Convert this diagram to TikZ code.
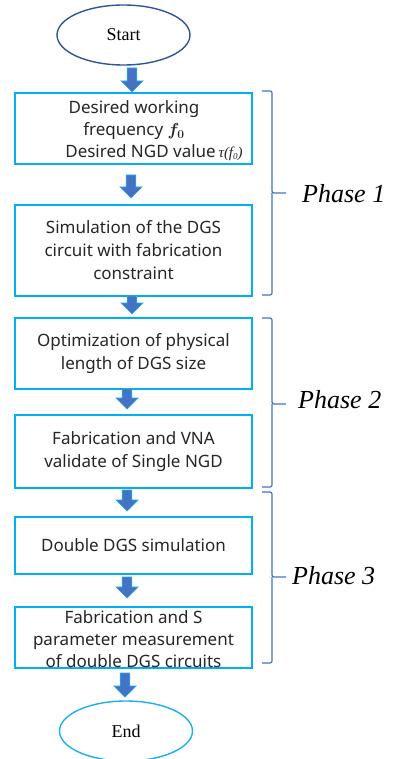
\documentclass[tikz,border=0pt]{standalone}
\usepackage{fontspec}
\setmainfont{Liberation Serif}
\newfontfamily\boxfont{Noto Sans}
\newfontfamily\greekfont{Liberation Serif}
\usepackage{amsmath}
\usetikzlibrary{shapes.geometric}
\begin{document}
\begin{tikzpicture}[x=1pt,y=-1pt,
  stepbox/.style={draw={rgb,255:red,0;green,176;blue,240}, line width=1.6pt, fill=white, inner sep=0pt,
     font=\boxfont\fontsize{17}{23}\selectfont, text={rgb,255:red,38;green,38;blue,38}, align=center},
  termnode/.style={ellipse, line width=1.4pt, fill=white, minimum width=133pt, minimum height=60pt, inner sep=0pt,
     font=\fontsize{18}{20}\selectfont},
  phase/.style={anchor=base west, font=\itshape\fontsize{26}{28}\selectfont, inner sep=0pt},
  bracket/.style={draw={rgb,255:red,68;green,114;blue,196}, line width=1.2pt, rounded corners=2pt}
]
\useasboundingbox (0,0) rectangle (393,759);
\definecolor{arrfill}{RGB}{68,114,196}
\definecolor{arredge}{RGB}{40,170,235}
\newcommand{\blockarrow}[3]{% x, ytop, ytip
  \fill[arrfill, draw=arredge, line width=0.7pt]
    (#1-4.8,#2) -- (#1+4.8,#2) -- (#1+4.8,#3-11) -- (#1+11,#3-11) -- (#1,#3) -- (#1-11,#3-11) -- (#1-4.8,#3-11) -- cycle;}

\node[termnode, draw={rgb,255:red,47;green,85;blue,151}] (start) at (123.5,35) {Start};

\node[stepbox, minimum width=237pt, minimum height=71pt] (b1) at (133.5,128.5) {};
\node[font=\boxfont\fontsize{17}{22}\selectfont, text={rgb,255:red,38;green,38;blue,38}, align=center, inner sep=0pt] (t1) at (134,131)
  {Desired working\\ frequency $\boldsymbol{f_0}$\\ \hspace*{40pt}Desired NGD value\,{\greekfont\itshape\fontsize{15}{15}\selectfont τ(\textit{f}{\fontsize{9}{9}\selectfont\raisebox{-2pt}{0}})}};

\node[stepbox, minimum width=237pt, minimum height=91pt] (b2) at (133.5,250.5) {Simulation of the DGS\\ circuit with fabrication\\ constraint};
\node[stepbox, minimum width=237pt, minimum height=71pt] (b3) at (133.5,353.5) {Optimization of physical\\ length of DGS size};
\node[stepbox, minimum width=237pt, minimum height=73pt] (b4) at (133.5,451.5) {Fabrication and VNA\\ validate of Single NGD};
\node[stepbox, minimum width=237pt, minimum height=57pt] (b5) at (133.5,545.5) {Double DGS simulation};
\node[stepbox, minimum width=237pt, minimum height=61pt] (b6) at (133.5,637.5) {};
\node[font=\boxfont\fontsize{17}{22}\selectfont, text={rgb,255:red,38;green,38;blue,38}, align=center, inner sep=0pt] (t6) at (133.5,639)
  {Fabrication and S\\ parameter measurement\\ of double DGS circuits};

\node[termnode, draw={rgb,255:red,26;green,176;blue,240}] (end) at (126,731) {End};

\blockarrow{132}{68}{92}
\blockarrow{131}{175}{198}
\blockarrow{132}{296}{314}
\blockarrow{127}{389}{409}
\blockarrow{127}{490}{511}
\blockarrow{127}{577}{598}
\blockarrow{125}{673}{697}

\coordinate (p1a) at (262,91);
\coordinate (p1m) at (286,193);
\coordinate (p1b) at (262,295);
\draw[bracket] (p1a) -- (272,91) -- (272,193) -- (p1m);
\draw[bracket] (272,193) -- (272,295) -- (p1b);
\coordinate (p2a) at (262,318);
\coordinate (p2m) at (286,404);
\coordinate (p2b) at (262,487);
\draw[bracket] (p2a) -- (272,318) -- (272,404) -- (p2m);
\draw[bracket] (272,404) -- (272,487) -- (p2b);
\coordinate (p3a) at (262,492);
\coordinate (p3m) at (286,577);
\coordinate (p3b) at (262,663);
\draw[bracket] (p3a) -- (272,492) -- (272,577) -- (p3m);
\draw[bracket] (272,577) -- (272,663) -- (p3b);

\node[phase] (ph1) at (302,203) {Phase 1};
\node[phase] (ph2) at (298,408) {Phase 2};
\node[phase] (ph3) at (292,584) {Phase 3};
\end{tikzpicture}
\end{document}
